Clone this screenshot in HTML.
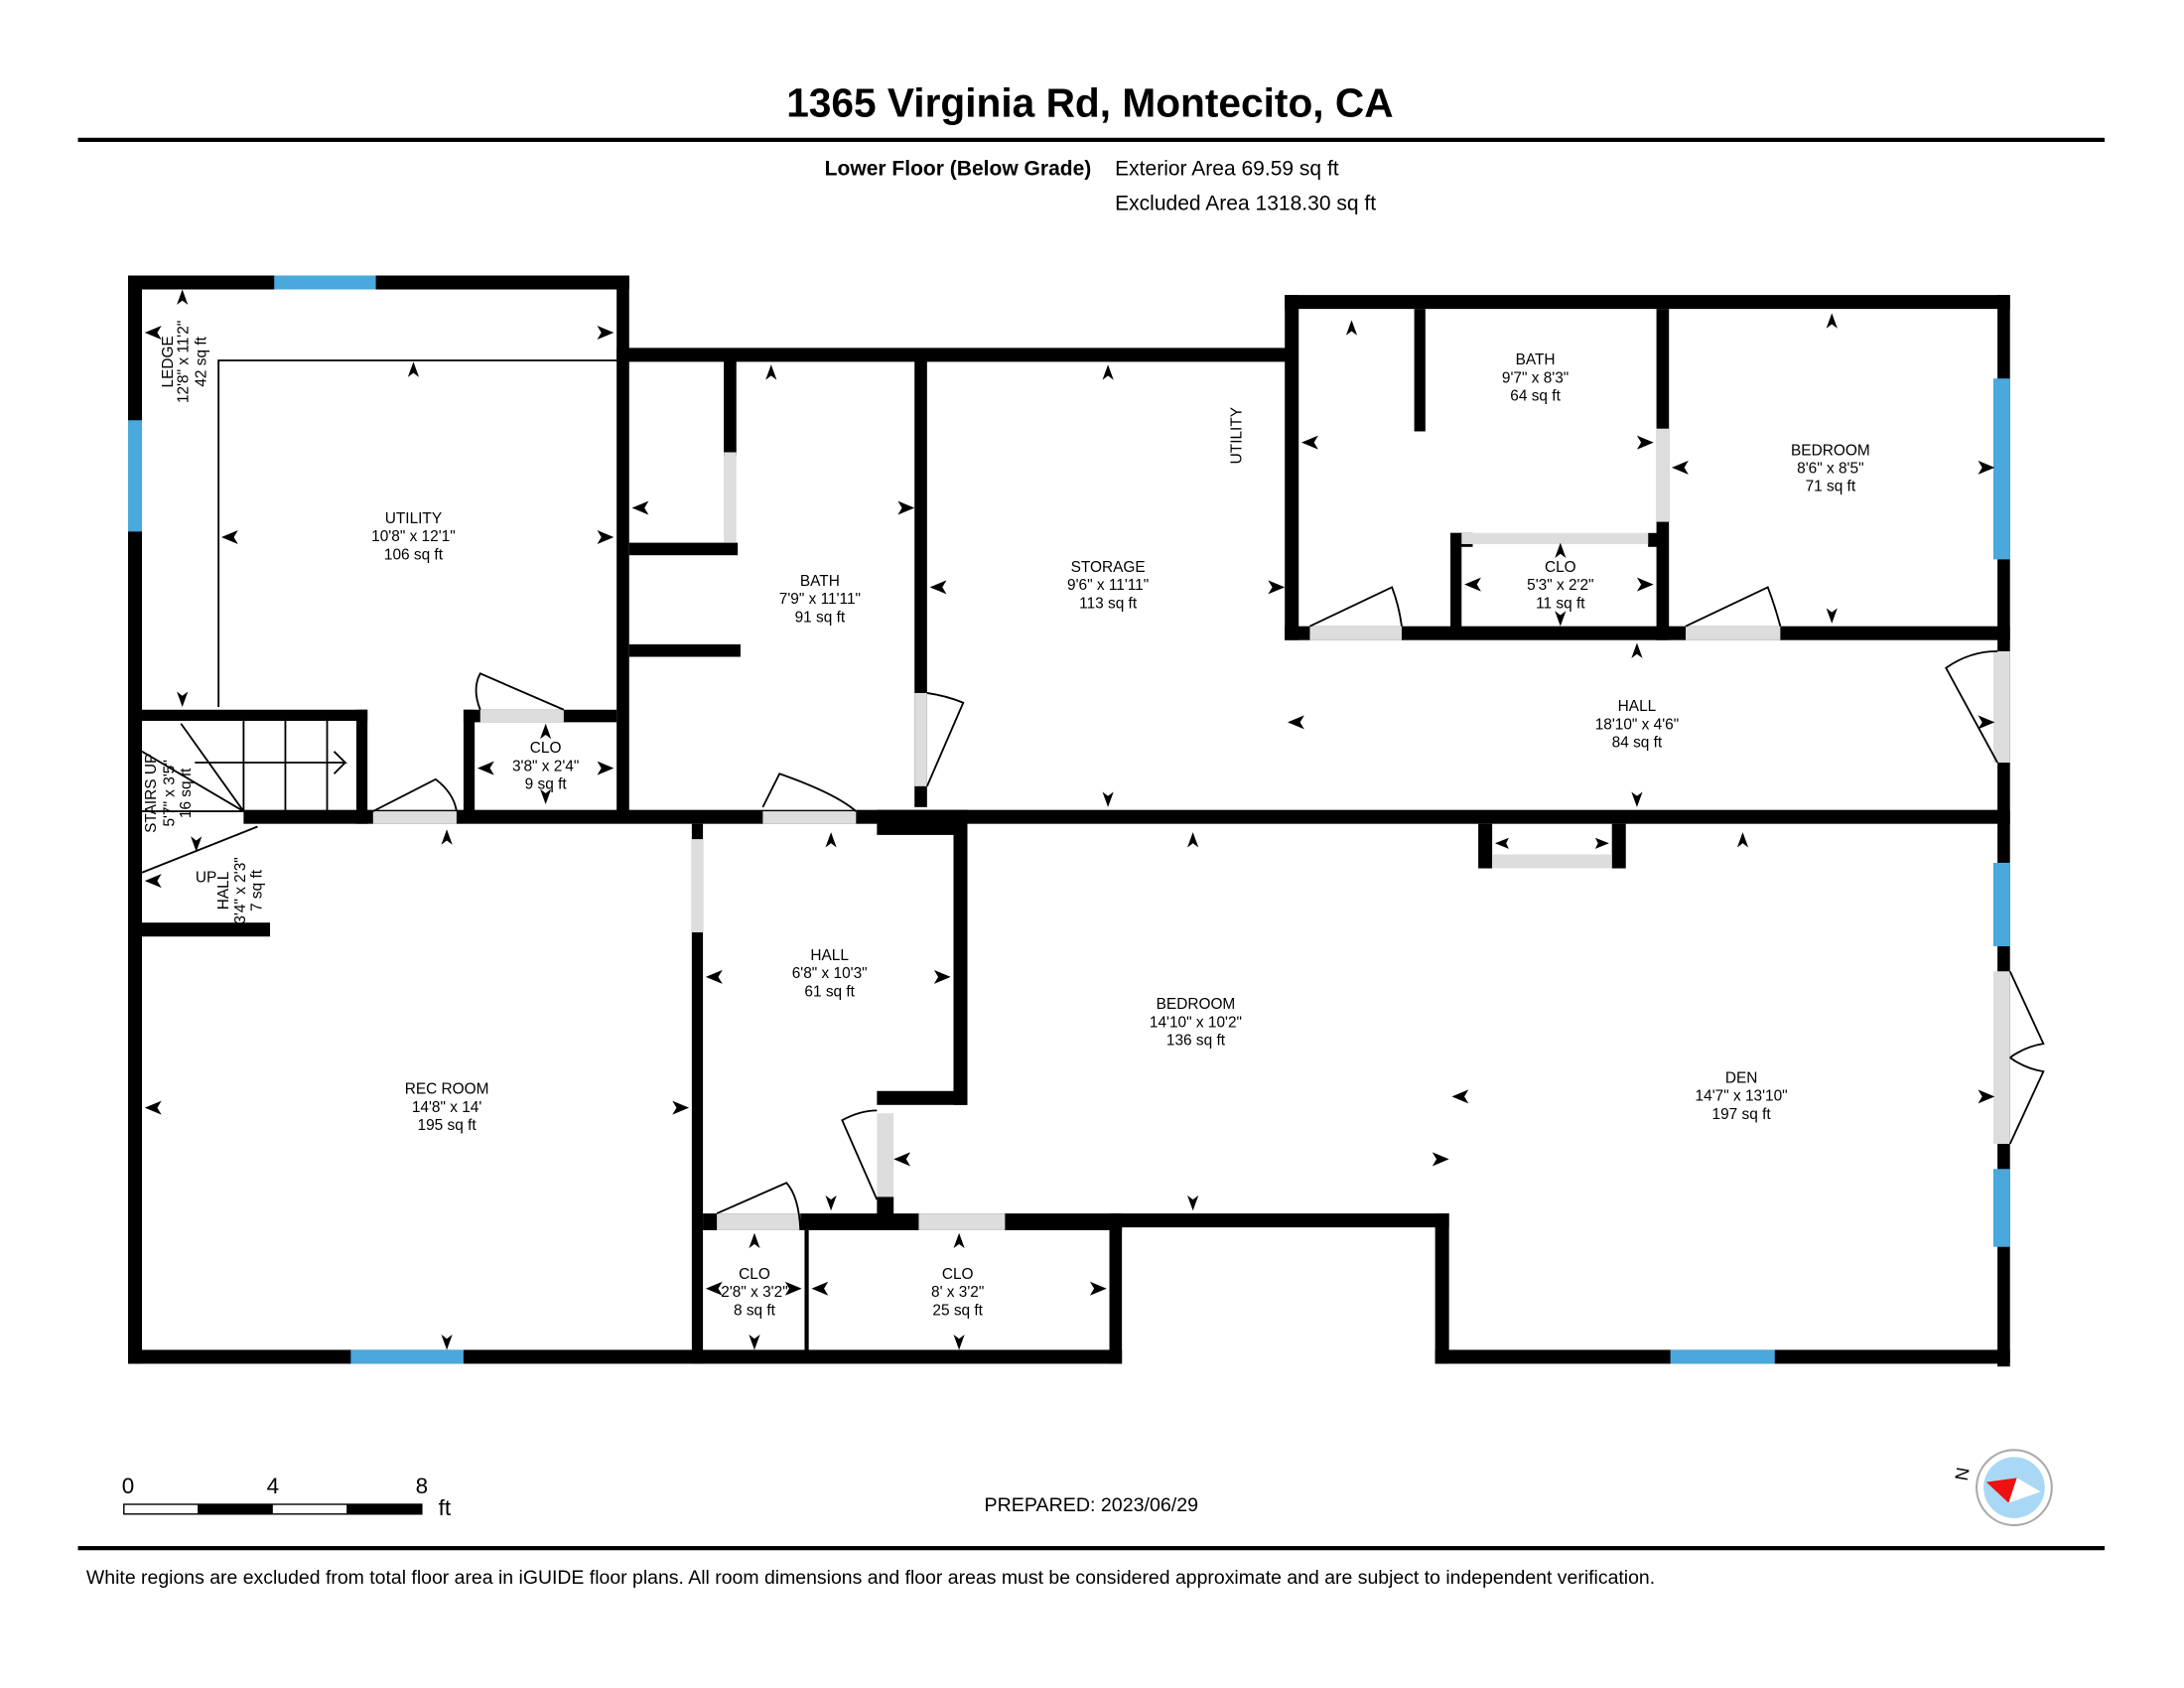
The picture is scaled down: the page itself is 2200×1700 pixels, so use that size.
<!DOCTYPE html>
<html><head><meta charset="utf-8"><style>
html,body{margin:0;padding:0;background:#fff}
svg{display:block}
text{font-family:"Liberation Sans",sans-serif;fill:#000}
.l{font-size:11px;text-anchor:middle}
</style></head><body>
<svg width="2200" height="1700" viewBox="0 0 1569 1213" preserveAspectRatio="none" xmlns="http://www.w3.org/2000/svg">
<defs><symbol id="a" viewBox="-6 -6 12 12" overflow="visible"><polygon points="0,-6 4,5 0,2 -4,5" fill="#000"/></symbol></defs>
<text x="783" y="84" font-size="29" font-weight="bold" text-anchor="middle">1365 Virginia Rd, Montecito, CA</text>
<rect x="56" y="99" width="1456" height="3" fill="#000"/>
<text x="784" y="126" font-size="15" font-weight="bold" text-anchor="end">Lower Floor (Below Grade)</text>
<text x="801" y="126" font-size="15">Exterior Area 69.59 sq ft</text>
<text x="801" y="151" font-size="15">Excluded Area 1318.30 sq ft</text>

<g fill="#000">
<rect x="92" y="198" width="10" height="782"/>
<rect x="92" y="198" width="360" height="10"/>
<rect x="443" y="198" width="9" height="392"/>
<rect x="443" y="250" width="487" height="10"/>
<rect x="923" y="212" width="521" height="10"/>
<rect x="1435" y="212" width="9" height="770"/>
<rect x="923" y="212" width="10" height="248"/>
<rect x="923" y="450" width="521" height="10"/>
<rect x="1190" y="222" width="9" height="238"/>
<rect x="1016" y="222" width="8" height="88"/>
<rect x="1042" y="383" width="8" height="72"/>
<rect x="1042" y="383" width="16" height="10"/>
<rect x="1184" y="383" width="10" height="10"/>
<rect x="657" y="258" width="9" height="322"/>
<rect x="520" y="258" width="9" height="70"/>
<rect x="452" y="390" width="78" height="9"/>
<rect x="452" y="463" width="80" height="9"/>
<rect x="175" y="582" width="1269" height="10"/>
<rect x="630" y="582" width="65" height="18"/>
<rect x="102" y="510" width="162" height="8"/>
<rect x="256" y="510" width="8" height="82"/>
<rect x="333" y="510" width="8" height="80"/>
<rect x="333" y="510" width="110" height="9"/>
<rect x="102" y="663" width="92" height="10"/>
<rect x="497" y="592" width="8" height="388"/>
<rect x="685" y="592" width="10" height="202"/>
<rect x="630" y="784" width="65" height="10"/>
<rect x="630" y="860" width="12" height="14"/>
<rect x="505" y="872" width="301" height="12"/>
<rect x="578" y="884" width="3" height="90"/>
<rect x="797" y="872" width="9" height="108"/>
<rect x="92" y="970" width="714" height="10"/>
<rect x="797" y="872" width="244" height="10"/>
<rect x="1031" y="872" width="10" height="108"/>
<rect x="1031" y="970" width="413" height="10"/>
<rect x="1062" y="592" width="10" height="32"/>
<rect x="1158" y="592" width="10" height="32"/>
</g>
<g fill="#ddd">
<rect x="268" y="583" width="60" height="9"/>
<rect x="548" y="583" width="67" height="9"/>
<rect x="345" y="510" width="60" height="9"/>
<rect x="941" y="450" width="66" height="10"/>
<rect x="1211" y="450" width="68" height="10"/>
<rect x="1050" y="383" width="134" height="8"/>
<rect x="1190" y="308" width="9" height="67"/>
<rect x="520" y="325" width="9" height="65"/>
<rect x="657" y="498" width="9" height="67"/>
<rect x="497" y="603" width="8" height="67"/>
<rect x="630" y="800" width="12" height="60"/>
<rect x="515" y="872" width="60" height="12"/>
<rect x="660" y="872" width="62" height="12"/>
<rect x="1072" y="614" width="86" height="10"/>
<rect x="1432" y="468" width="12" height="80"/>
<rect x="1432" y="698" width="12" height="124"/>
</g>
<g fill="#4aa8dc">
<rect x="197" y="198" width="73" height="10"/>
<rect x="92" y="302" width="10" height="80"/>
<rect x="252" y="970" width="81" height="10"/>
<rect x="1200" y="970" width="75" height="10"/>
<rect x="1432" y="272" width="12" height="130"/>
<rect x="1432" y="620" width="12" height="60"/>
<rect x="1432" y="840" width="12" height="56"/>
</g>
<g fill="none" stroke="#000" stroke-width="1.3">
<path d="M157 508V259H443"/>
<path d="M175 518V583 M205 518V583 M235 518V583 M140 548H248 L240 540 M248 548L240 556"/>
<path d="M130 520L175 583 M102 540L175 583 M102 583H175 M102 627L185 594"/>
<path d="M268 583L313 560 Q326 570 328 583"/>
<path d="M405 510L345 484 Q339 495 345 510"/>
<path d="M548 580L560 556 Q600 570 615 583"/>
<path d="M666 565L692 505 Q680 500 666 498"/>
<path d="M941 450L1000 422 Q1005 435 1007 450"/>
<path d="M1211 450L1270 422 Q1275 435 1279 450"/>
<path d="M1435 548L1398 480 Q1415 468 1435 468"/>
<path d="M1444 698L1468 750 Q1455 752 1444 760 M1444 822L1468 770 Q1455 768 1444 760"/>
<path d="M630 862L605 805 Q618 798 630 798"/>
<path d="M515 872L565 850 Q574 860 575 884"/>
</g>
<text class="l" x="297" y="376">UTILITY</text><text class="l" x="297" y="389">10'8" x 12'1"</text><text class="l" x="297" y="402">106 sq ft</text>
<text class="l" transform="translate(124,260) rotate(-90)">LEDGE</text><text class="l" transform="translate(135,260) rotate(-90)">12'8" x 11'2"</text><text class="l" transform="translate(148,260) rotate(-90)">42 sq ft</text>
<text class="l" transform="translate(112,570) rotate(-90)">STAIRS UP</text><text class="l" transform="translate(125,570) rotate(-90)">5'7" x 3'5"</text><text class="l" transform="translate(137,570) rotate(-90)">16 sq ft</text>
<text class="l" x="148" y="634">UP</text>
<text class="l" transform="translate(164,640) rotate(-90)">HALL</text><text class="l" transform="translate(176,640) rotate(-90)">3'4" x 2'3"</text><text class="l" transform="translate(188,640) rotate(-90)">7 sq ft</text>
<text class="l" x="392" y="541">CLO</text><text class="l" x="392" y="554">3'8" x 2'4"</text><text class="l" x="392" y="567">9 sq ft</text>
<text class="l" x="589" y="421">BATH</text><text class="l" x="589" y="434">7'9" x 11'11"</text><text class="l" x="589" y="447">91 sq ft</text>
<text class="l" x="796" y="411">STORAGE</text><text class="l" x="796" y="424">9'6" x 11'11"</text><text class="l" x="796" y="437">113 sq ft</text>
<text class="l" transform="translate(892,313) rotate(-90)">UTILITY</text>
<text class="l" x="1103" y="262">BATH</text><text class="l" x="1103" y="275">9'7" x 8'3"</text><text class="l" x="1103" y="288">64 sq ft</text>
<text class="l" x="1315" y="327">BEDROOM</text><text class="l" x="1315" y="340">8'6" x 8'5"</text><text class="l" x="1315" y="353">71 sq ft</text>
<text class="l" x="1121" y="411">CLO</text><text class="l" x="1121" y="424">5'3" x 2'2"</text><text class="l" x="1121" y="437">11 sq ft</text>
<text class="l" x="1176" y="511">HALL</text><text class="l" x="1176" y="524">18'10" x 4'6"</text><text class="l" x="1176" y="537">84 sq ft</text>
<text class="l" x="596" y="690">HALL</text><text class="l" x="596" y="703">6'8" x 10'3"</text><text class="l" x="596" y="716">61 sq ft</text>
<text class="l" x="321" y="786">REC ROOM</text><text class="l" x="321" y="799">14'8" x 14'</text><text class="l" x="321" y="812">195 sq ft</text>
<text class="l" x="859" y="725">BEDROOM</text><text class="l" x="859" y="738">14'10" x 10'2"</text><text class="l" x="859" y="751">136 sq ft</text>
<text class="l" x="1251" y="778">DEN</text><text class="l" x="1251" y="791">14'7" x 13'10"</text><text class="l" x="1251" y="804">197 sq ft</text>
<text class="l" x="542" y="919">CLO</text><text class="l" x="542" y="932">2'8" x 3'2"</text><text class="l" x="542" y="945">8 sq ft</text>
<text class="l" x="688" y="919">CLO</text><text class="l" x="688" y="932">8' x 3'2"</text><text class="l" x="688" y="945">25 sq ft</text>
<g>
<use href="#a" x="291" y="260" width="12" height="12"/>
<use href="#a" x="548" y="262" width="12" height="12"/>
<use href="#a" x="790" y="262" width="12" height="12"/>
<use href="#a" x="965" y="230" width="12" height="12"/>
<use href="#a" x="1310" y="225" width="12" height="12"/>
<use href="#a" x="1170" y="462" width="12" height="12"/>
<use href="#a" x="851" y="598" width="12" height="12"/>
<use href="#a" x="1246" y="598" width="12" height="12"/>
<use href="#a" x="591" y="598" width="12" height="12"/>
<use href="#a" x="315" y="596" width="12" height="12"/>
<use href="#a" x="386" y="520" width="12" height="12"/>
<use href="#a" x="536" y="886" width="12" height="12"/>
<use href="#a" x="683" y="886" width="12" height="12"/>
<use href="#a" x="125" y="208" width="12" height="12"/>
<use href="#a" x="1115" y="390" width="12" height="12"/>
</g>
<g>
<use href="#a" x="790" y="-580" width="12" height="12" transform="scale(1,-1)"/>
<use href="#a" x="1170" y="-580" width="12" height="12" transform="scale(1,-1)"/>
<use href="#a" x="1310" y="-448" width="12" height="12" transform="scale(1,-1)"/>
<use href="#a" x="851" y="-870" width="12" height="12" transform="scale(1,-1)"/>
<use href="#a" x="591" y="-870" width="12" height="12" transform="scale(1,-1)"/>
<use href="#a" x="315" y="-970" width="12" height="12" transform="scale(1,-1)"/>
<use href="#a" x="536" y="-970" width="12" height="12" transform="scale(1,-1)"/>
<use href="#a" x="683" y="-970" width="12" height="12" transform="scale(1,-1)"/>
<use href="#a" x="125" y="-508" width="12" height="12" transform="scale(1,-1)"/>
<use href="#a" x="386" y="-578" width="12" height="12" transform="scale(1,-1)"/>
<use href="#a" x="1115" y="-450" width="12" height="12" transform="scale(1,-1)"/>
<use href="#a" x="135" y="-612" width="12" height="12" transform="scale(1,-1)"/>
</g>
<g fill="#000">
<polygon points="104,796 116,791 113,796 116,801"/><polygon points="495,796 483,791 486,796 483,801"/>
<polygon points="159,386 171,381 168,386 171,391"/><polygon points="441,386 429,381 432,386 429,391"/>
<polygon points="441,239 429,234 432,239 429,244"/><polygon points="104,239 116,234 113,239 116,244"/>
<polygon points="454,365 466,360 463,365 466,370"/><polygon points="657,365 645,360 648,365 645,370"/>
<polygon points="668,422 680,417 677,422 680,427"/><polygon points="923,422 911,417 914,422 911,427"/>
<polygon points="935,318 947,313 944,318 947,323"/><polygon points="1188,318 1176,313 1179,318 1176,323"/>
<polygon points="1201,336 1213,331 1210,336 1213,341"/><polygon points="1433,336 1421,331 1424,336 1421,341"/>
<polygon points="925,519 937,514 934,519 937,524"/><polygon points="1433,519 1421,514 1424,519 1421,524"/>
<polygon points="507,702 519,697 516,702 519,707"/><polygon points="683,702 671,697 674,702 671,707"/>
<polygon points="642,833 654,828 651,833 654,838"/><polygon points="1041,833 1029,828 1032,833 1029,838"/>
<polygon points="1043,788 1055,783 1052,788 1055,793"/><polygon points="1433,788 1421,783 1424,788 1421,793"/>
<polygon points="343,552 355,547 352,552 355,557"/><polygon points="441,552 429,547 432,552 429,557"/>
<polygon points="1052,420 1064,415 1061,420 1064,425"/><polygon points="1188,420 1176,415 1179,420 1176,425"/>
<polygon points="507,926 519,921 516,926 519,931"/><polygon points="576,926 564,921 567,926 564,931"/>
<polygon points="583,926 595,921 592,926 595,931"/><polygon points="795,926 783,921 786,926 783,931"/>
<polygon points="104,633 116,628 113,633 116,638"/><polygon points="1074,606 1084,602 1082,606 1084,610"/><polygon points="1156,606 1146,602 1148,606 1146,610"/>
</g>
<text x="92" y="1073" font-size="16" text-anchor="middle">0</text><text x="196" y="1073" font-size="16" text-anchor="middle">4</text><text x="303" y="1073" font-size="16" text-anchor="middle">8</text>
<rect x="89" y="1081" width="214" height="7" fill="#fff" stroke="#000" stroke-width="1"/>
<rect x="142" y="1081" width="54" height="7" fill="#000"/><rect x="249" y="1081" width="54" height="7" fill="#000"/>
<text x="315" y="1089" font-size="16">ft</text>
<text x="784" y="1086" font-size="14" text-anchor="middle">PREPARED: 2023/06/29</text>
<circle cx="1447" cy="1069" r="27" fill="#fff" stroke="#aaa" stroke-width="1.5"/>
<circle cx="1447" cy="1069" r="22" fill="#a9d8f5"/>
<polygon points="1427,1065 1449,1062 1443,1080" fill="#e11"/>
<polygon points="1449,1062 1466,1072 1443,1080" fill="#fff"/>
<text transform="translate(1414,1060) rotate(-80)" font-size="13" text-anchor="middle">N</text>
<rect x="56" y="1111" width="1456" height="3" fill="#000"/>
<text x="62" y="1138" font-size="13.8" textLength="1127" lengthAdjust="spacingAndGlyphs">White regions are excluded from total floor area in iGUIDE floor plans. All room dimensions and floor areas must be considered approximate and are subject to independent verification.</text>
</svg>
</body></html>
